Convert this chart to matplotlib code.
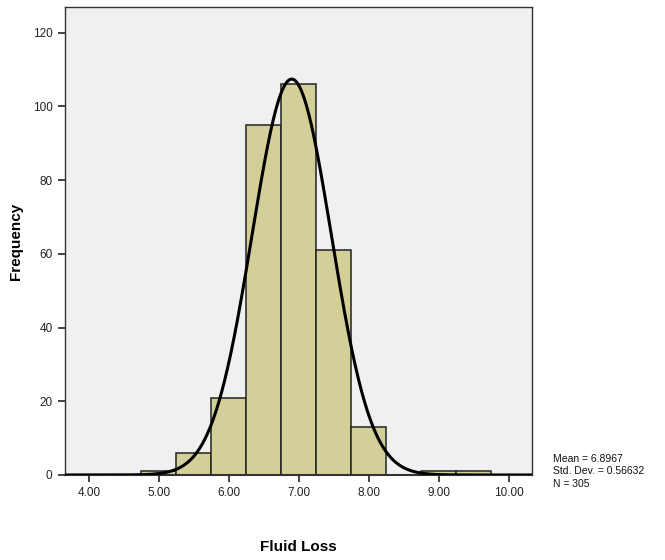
import matplotlib
matplotlib.use("Agg")
import matplotlib.pyplot as plt
import numpy as np

plt.rcParams['font.family'] = ['Liberation Sans', 'DejaVu Sans']

# histogram bins (width 0.5) and counts
bin_edges = [4.75, 5.25, 5.75, 6.25, 6.75, 7.25, 7.75, 8.25, 8.75, 9.25, 9.75]
counts = [1, 6, 21, 95, 106, 61, 13, 0, 1, 1]
mean = 6.8967
std = 0.56632
n = 305

xticks = [4, 5, 6, 7, 8, 9, 10]
yticks = [0, 20, 40, 60, 80, 100, 120]

fig = plt.figure(figsize=(6.65, 5.6), dpi=100)
ax = fig.add_axes([0.0977, 0.1518, 0.7023, 0.8357])
ax.set_facecolor('#f0f0f0')

lefts = np.array(bin_edges[:-1])
widths = np.diff(bin_edges)
ax.bar(lefts, counts, width=widths, align='edge', color='#d3cf98',
       edgecolor='#222222', linewidth=1.1, zorder=2)

xs = np.linspace(3.6, 10.4, 600)
width = widths[0]
ys = n * width / (std * np.sqrt(2 * np.pi)) * np.exp(-0.5 * ((xs - mean) / std) ** 2)
ax.plot(xs, ys, color='black', linewidth=2.2, zorder=3)

ax.set_xlim(3.657, 10.33)
ax.set_ylim(0, 127)
ax.set_xticks(xticks)
ax.set_xticklabels(["%.2f" % v for v in xticks])
ax.set_yticks(yticks)
ax.tick_params(axis='both', direction='out', length=5, width=1.2,
               labelsize=8.5, colors='#222222', pad=4)
for s in ax.spines.values():
    s.set_color('#333333')
    s.set_linewidth(1.0)
ax.spines['bottom'].set_linewidth(1.5)

ax.set_xlabel('Fluid Loss', fontsize=11, fontweight='bold', labelpad=29)
ax.set_ylabel('Frequency', fontsize=11, fontweight='bold', labelpad=7)

fig.text(0.832, 0.127, "Mean = %.4f\nStd. Dev. = %.5f\nN = %d" % (mean, std, n),
         fontsize=7.5, va='bottom', ha='left', linespacing=1.3, color='#111111')

fig.savefig('out.png', dpi=100)
